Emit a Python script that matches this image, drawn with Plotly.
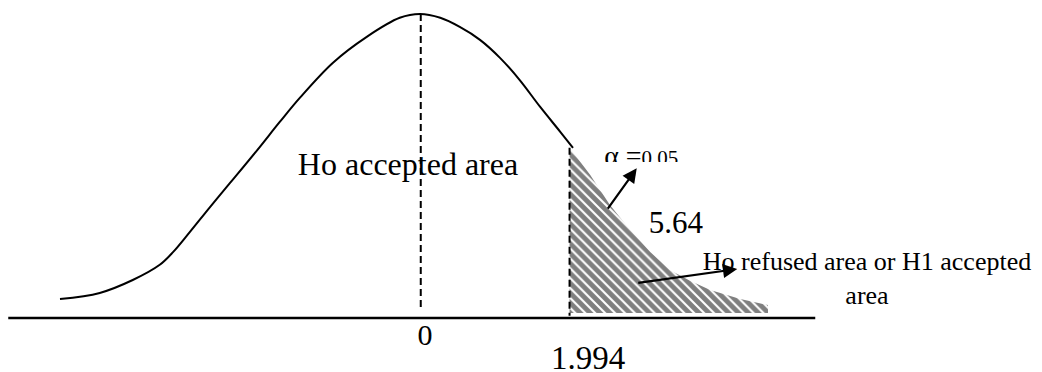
import plotly.graph_objects as go

# curve: z on x, height on y
curve_z = [-4.8, -4.27, -3.83, -3.47, -3.29, -3.07, -2.8, -2.53, -2.17, -1.87,
           -1.6, -1.16, -0.71, -0.27, 0.0, 0.27, 0.53, 0.8, 1.07, 1.33,
           1.6, 1.87, 2.04]
curve_d = [0.025, 0.033, 0.050, 0.070, 0.087, 0.113, 0.146, 0.178, 0.221, 0.258,
           0.290, 0.336, 0.370, 0.395, 0.400, 0.395, 0.383, 0.366, 0.342, 0.313,
           0.278, 0.245, 0.224]

# rejection tail (hatched)
tail_z = [1.994, 2.27, 2.53, 2.8, 3.07, 3.33, 3.6, 3.87, 4.27, 4.64]
tail_d = [0.224, 0.188, 0.149, 0.116, 0.087, 0.063, 0.049, 0.037, 0.025, 0.017]
tail_floor = 0.0066

axis_z = [-5.49, 5.27]
critical = 1.994
alpha = 0.05
t_value = 5.64

labels = ["Ho accepted area",
          "α =<span style='font-size:21px'>%s</span>" % alpha,
          str(t_value),
          "Ho refused area or H1 accepted<br>area",
          "0",
          str(critical)]

BLACK = "black"
FONT = "Liberation Serif"

fig = go.Figure()

# baseline
fig.add_trace(go.Scatter(x=axis_z, y=[0, 0], mode="lines",
                         line=dict(color=BLACK, width=2.5)))

# hatched tail
fig.add_trace(go.Scatter(
    x=tail_z + [tail_z[-1], critical], y=tail_d + [tail_floor, tail_floor],
    mode="lines", fill="toself", line=dict(width=0),
    fillcolor="white",
    fillpattern=dict(shape="\\", fgcolor=BLACK, bgcolor="white", size=7, solidity=0.7),
))

# bell curve
fig.add_trace(go.Scatter(x=curve_z, y=curve_d, mode="lines", line_shape="spline",
                         line=dict(color=BLACK, width=2)))

# text labels (as traces so they can be clipped by white boxes above them)
text_pos = [(-0.16, 0.199, 32), (2.95, 0.211, 28), (3.41, 0.122, 31),
            (5.96, 0.049, 26), (0.067, -0.025, 30), (2.24, -0.056, 33)]
for lab, (x, y, s) in zip(labels, text_pos):
    fig.add_trace(go.Scatter(x=[x], y=[y], mode="text", text=[lab],
                             textposition="middle center", cliponaxis=False,
                             textfont=dict(family=FONT, size=s, color=BLACK)))

# white boxes cutting off the bottom of some labels, as in the source drawing
for x0, x1, y0, y1 in [(2.36, 3.6, 0.1987, 0.2053), (-0.13, 0.13, 0.177, 0.186)]:
    fig.add_trace(go.Scatter(x=[x0, x1, x1, x0, x0], y=[y0, y0, y1, y1, y0],
                             mode="lines", fill="toself", fillcolor="white",
                             line=dict(width=0)))

# dashed guides
fig.add_trace(go.Scatter(x=[0.01, 0.01], y=[0.4, 0.0105], mode="lines",
                         line=dict(color=BLACK, width=2, dash="7px,4px")))
fig.add_trace(go.Scatter(x=[critical, critical], y=[0.224, 0.003], mode="lines",
                         line=dict(color=BLACK, width=2, dash="7px,4px")))

# arrows
for (x0, y0), (x1, y1) in [((2.49, 0.142), (2.89, 0.197)),
                           ((2.89, 0.046), (4.23, 0.0645))]:
    fig.add_annotation(x=x1, y=y1, ax=x0, ay=y0, xref="x", yref="y",
                       axref="x", ayref="y", text="", showarrow=True,
                       arrowhead=2, arrowsize=1.3, arrowwidth=2.2, arrowcolor=BLACK)

# page body has an 8px margin, so the figure is 8px smaller than the window
fig.update_xaxes(range=[-5.4933, 8.2933], visible=False)
fig.update_yaxes(range=[-0.07105, 0.40789], visible=False)
fig.update_layout(width=1034, height=364, margin=dict(l=0, r=0, t=0, b=0),
                  plot_bgcolor="white", paper_bgcolor="white", showlegend=False)

fig.write_html("out.html")
